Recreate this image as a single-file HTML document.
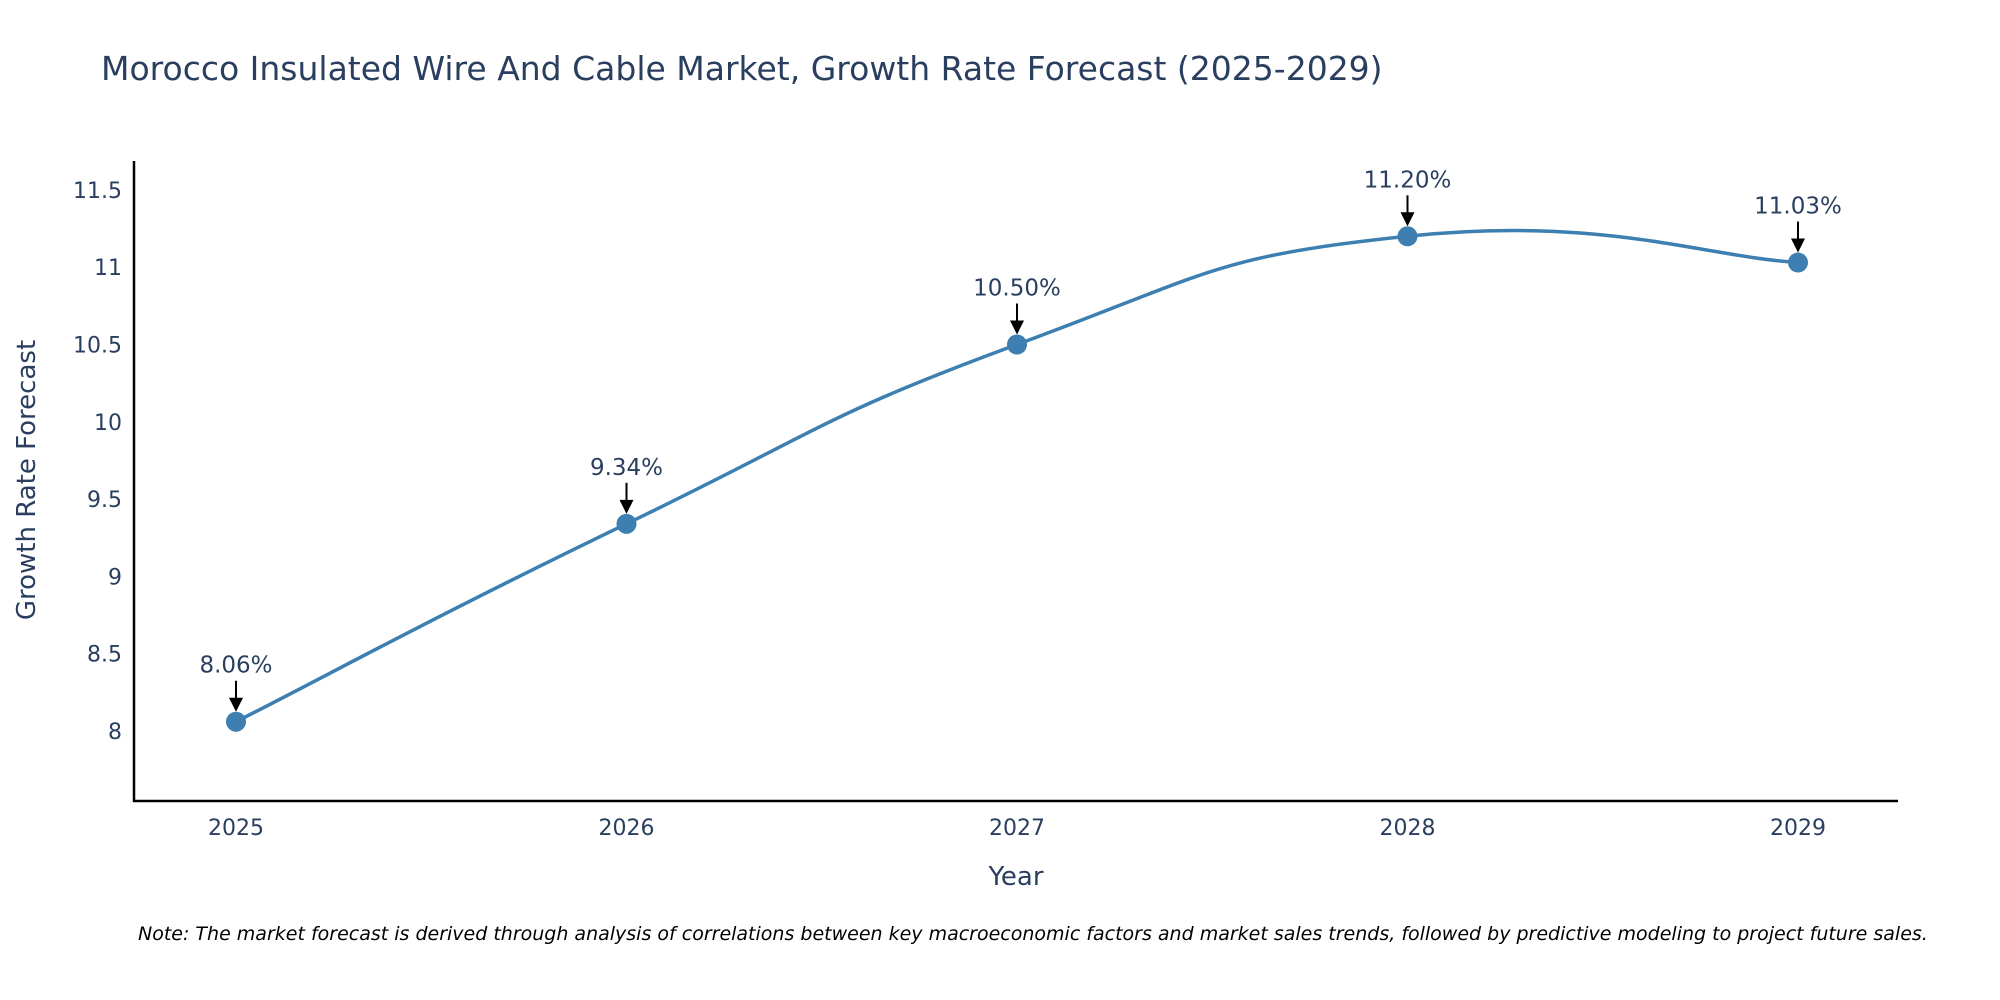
<!DOCTYPE html>
<html><head><meta charset="utf-8"><style>
body{margin:0;background:#fff;}
svg{display:block;font-family:"DejaVu Sans","Liberation Sans",sans-serif;}
</style></head><body>
<svg id="chart" width="2000" height="1000">
<rect width="2000" height="1000" fill="#fff"/>
<text x="101" y="80" font-size="33" fill="#2a3f5f">Morocco Insulated Wire And Cable Market, Growth Rate Forecast (2025-2029)</text>
<g id="yticks"></g>
<g id="xticks"></g>
<line x1="134" y1="161" x2="134" y2="802" stroke="#000" stroke-width="2.5"/>
<line x1="133" y1="801" x2="1898" y2="801" stroke="#000" stroke-width="2.5"/>
<path id="line" fill="none" stroke="#3d7fb0" stroke-width="3.5"/>
<g id="points"></g>
<g id="annots"></g>
<text x="1016" y="885" font-size="26" fill="#2a3f5f" text-anchor="middle">Year</text>
<text transform="translate(35,480) rotate(-90)" font-size="26" fill="#2a3f5f" text-anchor="middle">Growth Rate Forecast</text>
<text x="138" y="940" font-size="19" font-style="italic" fill="#000">Note: The market forecast is derived through analysis of correlations between key macroeconomic factors and market sales trends, followed by predictive modeling to project future sales.</text>
</svg>
<script>
const years=["2025","2026","2027","2028","2029"];
const values=[8.06,9.34,10.50,11.20,11.03];
const labels=["8.06%","9.34%","10.50%","11.20%","11.03%"];
const yTicks=[8,8.5,9,9.5,10,10.5,11,11.5];
const yTickLabels=["8","8.5","9","9.5","10","10.5","11","11.5"];
const NS="http://www.w3.org/2000/svg";
const x0=236,x1=1798;
function xs(i){return x0+(x1-x0)*i/(years.length-1);}
function ys(v){return 731-(v-8)*154.6;}
function mk(t,a,p){const e=document.createElementNS(NS,t);for(const k in a)e.setAttribute(k,a[k]);p.appendChild(e);return e;}
const yg=document.getElementById('yticks');
yTicks.forEach((v,i)=>{const t=mk('text',{x:122,y:ys(v)+8,'font-size':22,fill:'#2a3f5f','text-anchor':'end'},yg);t.textContent=yTickLabels[i];

});
const xg=document.getElementById('xticks');
years.forEach((y,i)=>{const t=mk('text',{x:xs(i),y:835,'font-size':22,fill:'#2a3f5f','text-anchor':'middle'},xg);t.textContent=y;

});
const P=values.map((v,i)=>[xs(i),ys(v)]);
let d="M"+P[0][0]+","+P[0][1];const s=0.25;
for(let i=0;i<P.length-1;i++){const p0=P[Math.max(0,i-1)],p1=P[i],p2=P[i+1],p3=P[Math.min(P.length-1,i+2)];
const c1=[p1[0]+(p2[0]-p0[0])*s,p1[1]+(p2[1]-p0[1])*s],c2=[p2[0]-(p3[0]-p1[0])*s,p2[1]-(p3[1]-p1[1])*s];
d+=` C${c1[0]},${c1[1]} ${c2[0]},${c2[1]} ${p2[0]},${p2[1]}`;}
document.getElementById('line').setAttribute('d',d);
const pg=document.getElementById('points'),ag=document.getElementById('annots');
P.forEach((p,i)=>{const c=mk('circle',{cx:p[0],cy:p[1],r:10,fill:'#3d7fb0'},pg);


const l=mk('line',{x1:p[0],y1:p[1]-41,x2:p[0],y2:p[1]-20,stroke:'#000','stroke-width':2},ag);


const a=mk('polygon',{points:`${p[0]-7},${p[1]-24} ${p[0]+7},${p[1]-24} ${p[0]},${p[1]-10}`,fill:'#000'},ag);


const t=mk('text',{x:p[0],y:p[1]-49,'font-size':23,fill:'#2a3f5f','text-anchor':'middle'},ag);t.textContent=labels[i];

});
</script>
</body></html>
